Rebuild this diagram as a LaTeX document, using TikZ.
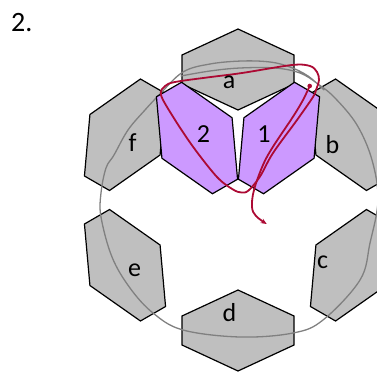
\documentclass[tikz,border=0pt]{standalone}
\usepackage{fontspec}
\setmainfont{Carlito}
\definecolor{cellgray}{RGB}{191,191,191}
\definecolor{cellpurple}{RGB}{204,153,255}
\definecolor{loopgray}{RGB}{128,128,128}
\definecolor{pathred}{RGB}{172,10,52}
\usetikzlibrary{arrows.meta}
\tikzset{
  pics/hexcell/.style={code={
    \draw[line width=1.2pt,fill=#1] (0,-40.5) -- (56,-14.5) -- (56,14.5) -- (0,40.5) -- (-56,14.5) -- (-56,-14.5) -- cycle;
  }},
  celllabel/.style={font=\fontsize{26}{30}\selectfont,inner sep=0pt},
}

\begin{document}
\begin{tikzpicture}[x=1pt,y=-1pt]
  \clip (0,0) rectangle (377,372);
  % Outer ring of cells a..f (centre of ring at 238,200)
  \pic at (238,69.5) {hexcell=cellgray};
  \pic[rotate=-60] at (351,134.75) {hexcell=cellgray};
  \pic[rotate=60] at (351,265.25) {hexcell=cellgray};
  \pic at (238,330.5) {hexcell=cellgray};
  \pic[rotate=-60] at (125,265.25) {hexcell=cellgray};
  \pic[rotate=60] at (125,134.75) {hexcell=cellgray};
  % Grey loop round the ring (ends overlap at the top)
  \draw[loopgray,line width=1.3pt,line cap=round] plot[smooth,tension=0.6] coordinates {
    (181,76) (210,71) (240,68) (275,68) (300,73) (318,84) (335,98) (357,125)
    (372,160) (378,200) (370,243) (360,280) (323,320) (293,333) (240,337)
    (183,330) (153,313) (130,288) (112,257) (101,217) (101,193) (106,168)
    (114,155) (128,130) (145,110) (160,94) (183,72) (210,64) (242,61)
    (270,62) (290,67) (308,76) (324,90)};
  % Purple cells 2 and 1
  \pic[rotate=-60] at (197,138) {hexcell=cellpurple};
  \pic[rotate=60] at (279,138) {hexcell=cellpurple};
  % Red loop
  \draw[pathred,line width=1.8pt] plot[smooth cycle,tension=0.55] coordinates {
    (161,95) (165,86) (175,82) (207,77.5) (242,73) (292,65) (310,66) (317,72)
    (319,80) (316,90) (313,97) (297,120) (273,153) (260,176.5) (248.5,190.5)
    (241.5,192.5) (233,189.5) (217,177) (193,146.7) (173,116.7)};
  % Red stroke with start dot and arrow
  \fill[pathred] (309.7,86) circle (2.3pt);
  \draw[pathred,line width=1.8pt,-{Stealth[length=6pt,width=5pt]}] plot[smooth,tension=0.6] coordinates {
    (309.7,86) (303,100) (293,116.7) (273,146.7) (263,165) (254,190) (252,207)
    (256,216) (266.7,224)};
  % Labels
  \node[celllabel] (lblA) at (229,82.5) {a};
  \node[celllabel] (lblB) at (332.5,144.7) {b};
  \node[celllabel] (lblC) at (322.5,262.5) {c};
  \node[celllabel] (lblD) at (229.5,312.5) {d};
  \node[celllabel] (lblE) at (134.5,270) {e};
  \node[celllabel] (lblF) at (132.5,143) {f};
  \node[celllabel] (lblTwo) at (203.5,134) {2};
  \node[celllabel] (lblOne) at (264,134) {1};
  \node[font=\fontsize{28}{32}\selectfont,inner sep=0pt,anchor=base west] (title) at (11,31) {2.};
\end{tikzpicture}
\end{document}
